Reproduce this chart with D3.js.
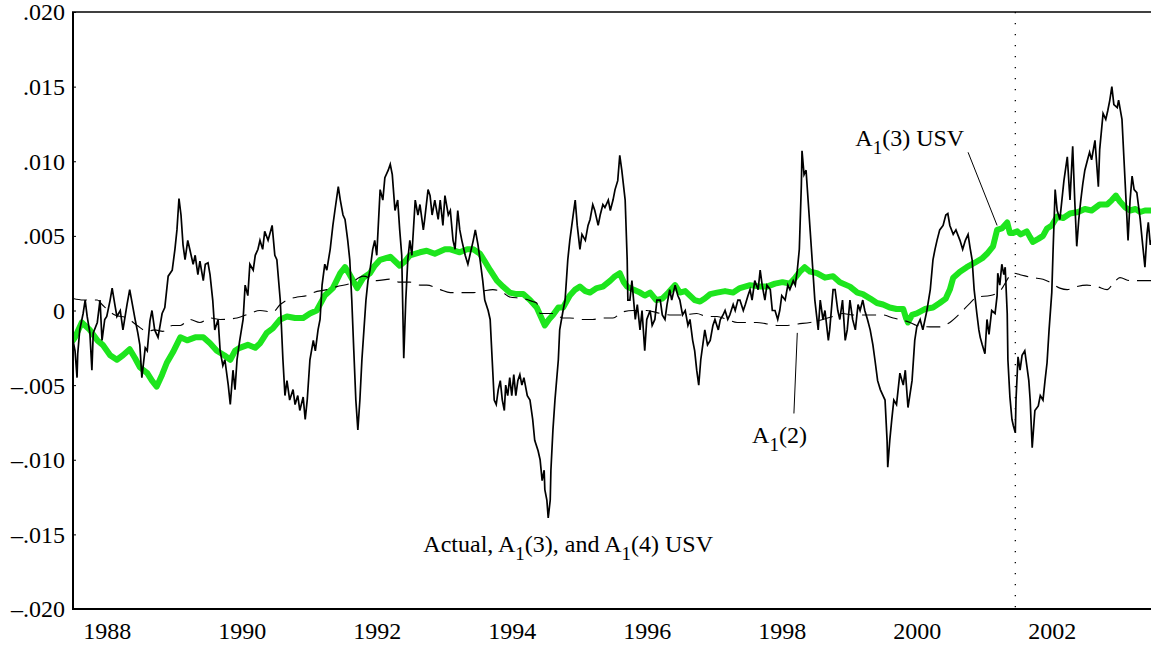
<!DOCTYPE html>
<html><head><meta charset="utf-8">
<script src="https://cdn.jsdelivr.net/npm/d3@7"></script>
<style>
body{margin:0;background:#fff}
text{font-family:"Liberation Serif","Times New Roman",serif;fill:#000}
</style>
</head><body>
<svg id="chart" width="1151" height="645"></svg>
<script>
// ---------- DATA ----------
const actualYears = [1987.50,1987.53,1987.56,1987.57,1987.60,1987.65,1987.68,1987.71,1987.75,1987.78,1987.80,1987.86,1987.90,1987.93,1987.97,1988.00,1988.05,1988.08,1988.12,1988.15,1988.20,1988.24,1988.30,1988.34,1988.42,1988.46,1988.49,1988.52,1988.57,1988.60,1988.64,1988.67,1988.71,1988.76,1988.82,1988.86,1988.91,1988.97,1989.01,1989.04,1989.07,1989.10,1989.13,1989.16,1989.20,1989.23,1989.28,1989.31,1989.35,1989.38,1989.43,1989.46,1989.50,1989.53,1989.57,1989.60,1989.65,1989.68,1989.72,1989.75,1989.80,1989.83,1989.87,1989.90,1989.93,1989.97,1990.02,1990.05,1990.09,1990.12,1990.17,1990.20,1990.24,1990.27,1990.31,1990.34,1990.39,1990.45,1990.49,1990.52,1990.57,1990.61,1990.64,1990.67,1990.71,1990.76,1990.79,1990.83,1990.86,1990.91,1990.94,1990.97,1991.01,1991.06,1991.09,1991.13,1991.16,1991.19,1991.23,1991.26,1991.31,1991.35,1991.38,1991.43,1991.46,1991.50,1991.53,1991.57,1991.60,1991.63,1991.66,1991.69,1991.72,1991.75,1991.78,1991.81,1991.84,1991.87,1991.90,1991.94,1991.97,1992.00,1992.05,1992.09,1992.12,1992.17,1992.20,1992.23,1992.27,1992.31,1992.34,1992.37,1992.40,1992.43,1992.46,1992.49,1992.52,1992.57,1992.61,1992.64,1992.69,1992.71,1992.76,1992.79,1992.82,1992.86,1992.91,1992.94,1992.98,1993.01,1993.06,1993.09,1993.13,1993.16,1993.20,1993.23,1993.26,1993.31,1993.35,1993.38,1993.43,1993.46,1993.50,1993.53,1993.57,1993.60,1993.65,1993.68,1993.71,1993.74,1993.77,1993.80,1993.83,1993.86,1993.89,1993.91,1993.94,1993.97,1994.00,1994.03,1994.06,1994.09,1994.12,1994.15,1994.18,1994.23,1994.27,1994.31,1994.34,1994.39,1994.42,1994.45,1994.48,1994.49,1994.52,1994.54,1994.57,1994.58,1994.61,1994.64,1994.69,1994.71,1994.76,1994.79,1994.83,1994.86,1994.91,1994.94,1994.97,1995.01,1995.04,1995.09,1995.13,1995.16,1995.20,1995.23,1995.28,1995.31,1995.35,1995.38,1995.43,1995.46,1995.50,1995.53,1995.57,1995.60,1995.63,1995.68,1995.71,1995.72,1995.75,1995.78,1995.83,1995.86,1995.90,1995.93,1995.97,1996.00,1996.05,1996.08,1996.12,1996.15,1996.20,1996.23,1996.27,1996.30,1996.34,1996.37,1996.42,1996.46,1996.49,1996.53,1996.57,1996.61,1996.64,1996.68,1996.71,1996.74,1996.77,1996.80,1996.83,1996.86,1996.90,1996.94,1996.98,1997.01,1997.06,1997.09,1997.13,1997.16,1997.20,1997.23,1997.28,1997.31,1997.35,1997.38,1997.43,1997.46,1997.50,1997.53,1997.56,1997.60,1997.65,1997.68,1997.71,1997.75,1997.78,1997.83,1997.86,1997.90,1997.94,1997.97,1998.00,1998.05,1998.09,1998.12,1998.17,1998.20,1998.23,1998.26,1998.29,1998.30,1998.33,1998.36,1998.39,1998.42,1998.45,1998.49,1998.54,1998.57,1998.61,1998.64,1998.69,1998.71,1998.76,1998.79,1998.83,1998.86,1998.90,1998.94,1998.97,1999.01,1999.05,1999.09,1999.13,1999.16,1999.20,1999.23,1999.27,1999.31,1999.35,1999.38,1999.42,1999.46,1999.50,1999.53,1999.56,1999.57,1999.60,1999.63,1999.66,1999.70,1999.75,1999.80,1999.83,1999.87,1999.93,1999.97,2000.00,2000.05,2000.09,2000.15,2000.20,2000.24,2000.27,2000.30,2000.34,2000.39,2000.43,2000.46,2000.49,2000.54,2000.58,2000.64,2000.68,2000.72,2000.76,2000.79,2000.82,2000.85,2000.89,2000.92,2000.94,2000.97,2001.01,2001.04,2001.07,2001.11,2001.16,2001.19,2001.20,2001.23,2001.26,2001.29,2001.31,2001.34,2001.35,2001.38,2001.41,2001.43,2001.46,2001.47,2001.50,2001.53,2001.56,2001.60,2001.63,2001.66,2001.68,2001.71,2001.74,2001.75,2001.80,2001.83,2001.87,2001.90,2001.93,2001.96,2002.00,2002.02,2002.05,2002.08,2002.12,2002.15,2002.18,2002.23,2002.26,2002.27,2002.31,2002.34,2002.37,2002.40,2002.43,2002.46,2002.49,2002.53,2002.56,2002.59,2002.64,2002.69,2002.71,2002.76,2002.80,2002.83,2002.86,2002.89,2002.92,2002.97,2002.99,2003.04,2003.07,2003.10,2003.13,2003.16,2003.19,2003.22,2003.26,2003.31,2003.34,2003.38,2003.41,2003.43,2003.46,2003.47];
const actualValues = [-0.0020,-0.0027,-0.0045,-0.0029,-0.0013,-0.0002,0.0007,-0.0004,-0.0015,-0.0040,-0.0015,-0.0008,0.0007,-0.0020,-0.0006,-0.0004,0.0007,0.0015,0.0004,-0.0004,0.0000,-0.0013,0.0004,0.0014,-0.0006,-0.0015,-0.0023,-0.0045,-0.0025,-0.0027,-0.0007,0.0000,-0.0013,-0.0018,-0.0002,0.0002,0.0023,0.0027,0.0041,0.0054,0.0075,0.0064,0.0044,0.0034,0.0047,0.0041,0.0031,0.0037,0.0024,0.0033,0.0020,0.0031,0.0032,0.0024,0.0007,-0.0013,-0.0006,-0.0027,-0.0037,-0.0033,-0.0050,-0.0063,-0.0040,-0.0053,-0.0033,-0.0020,-0.0006,0.0017,0.0010,0.0031,0.0027,0.0037,0.0041,0.0047,0.0041,0.0053,0.0047,0.0057,0.0037,0.0034,0.0007,-0.0033,-0.0057,-0.0047,-0.0060,-0.0053,-0.0063,-0.0057,-0.0067,-0.0058,-0.0073,-0.0060,-0.0033,-0.0020,-0.0027,-0.0013,-0.0006,0.0017,0.0031,0.0027,0.0041,0.0057,0.0067,0.0083,0.0074,0.0064,0.0061,0.0047,0.0034,0.0007,-0.0027,-0.0060,-0.0080,-0.0060,-0.0033,-0.0013,0.0007,0.0020,0.0027,0.0041,0.0047,0.0037,0.0081,0.0074,0.0089,0.0094,0.0098,0.0091,0.0067,0.0074,0.0054,0.0037,-0.0032,0.0007,0.0034,0.0047,0.0037,0.0074,0.0064,0.0071,0.0054,0.0061,0.0081,0.0077,0.0064,0.0074,0.0061,0.0074,0.0057,0.0077,0.0064,0.0067,0.0047,0.0041,0.0067,0.0054,0.0047,0.0037,0.0031,0.0037,0.0047,0.0054,0.0044,0.0034,0.0020,0.0007,0.0000,-0.0006,-0.0033,-0.0060,-0.0063,-0.0053,-0.0047,-0.0060,-0.0067,-0.0050,-0.0057,-0.0045,-0.0057,-0.0043,-0.0057,-0.0047,-0.0043,-0.0050,-0.0045,-0.0057,-0.0060,-0.0073,-0.0087,-0.0094,-0.0100,-0.0114,-0.0107,-0.0120,-0.0127,-0.0139,-0.0127,-0.0107,-0.0080,-0.0060,-0.0033,-0.0013,0.0000,0.0007,0.0034,0.0047,0.0064,0.0074,0.0057,0.0041,0.0051,0.0047,0.0057,0.0061,0.0071,0.0067,0.0057,0.0064,0.0071,0.0069,0.0074,0.0067,0.0074,0.0081,0.0087,0.0104,0.0094,0.0074,0.0034,0.0007,0.0007,0.0020,-0.0006,0.0004,-0.0013,0.0000,-0.0027,-0.0006,0.0000,-0.0010,-0.0006,0.0007,0.0007,-0.0003,-0.0006,0.0004,0.0014,0.0007,0.0017,0.0010,0.0007,-0.0003,0.0000,-0.0010,-0.0006,-0.0020,-0.0027,-0.0040,-0.0050,-0.0033,-0.0023,-0.0013,-0.0023,-0.0020,-0.0010,-0.0006,-0.0013,-0.0006,-0.0003,0.0000,-0.0006,-0.0003,0.0004,0.0000,0.0007,0.0007,0.0000,0.0004,0.0010,0.0014,0.0007,0.0020,0.0014,0.0027,0.0017,0.0007,0.0017,0.0014,0.0000,0.0000,-0.0006,0.0000,0.0010,0.0007,0.0017,0.0014,0.0020,0.0017,0.0027,0.0041,0.0084,0.0107,0.0091,0.0094,0.0074,0.0054,0.0034,0.0007,-0.0013,0.0007,-0.0006,0.0000,-0.0020,-0.0013,0.0014,0.0014,0.0000,-0.0006,0.0007,-0.0020,-0.0013,0.0007,-0.0006,-0.0013,0.0004,0.0000,0.0007,0.0000,-0.0006,-0.0013,-0.0023,-0.0033,-0.0047,-0.0053,-0.0057,-0.0060,-0.0087,-0.0105,-0.0087,-0.0073,-0.0060,-0.0063,-0.0042,-0.0050,-0.0040,-0.0065,-0.0047,-0.0020,-0.0011,-0.0006,-0.0013,0.0000,0.0014,0.0034,0.0041,0.0047,0.0054,0.0057,0.0064,0.0065,0.0057,0.0051,0.0054,0.0047,0.0041,0.0047,0.0051,0.0042,0.0034,0.0014,-0.0002,-0.0013,-0.0018,-0.0023,-0.0029,-0.0006,-0.0016,0.0000,-0.0002,0.0010,0.0025,0.0017,0.0031,0.0024,0.0029,-0.0002,-0.0033,-0.0058,-0.0073,-0.0077,-0.0082,-0.0060,-0.0031,-0.0040,-0.0030,-0.0027,-0.0037,-0.0047,-0.0060,-0.0092,-0.0073,-0.0067,-0.0064,-0.0057,-0.0060,-0.0047,-0.0035,-0.0013,0.0012,0.0041,0.0081,0.0067,0.0061,0.0074,0.0087,0.0103,0.0081,0.0074,0.0110,0.0074,0.0043,0.0061,0.0074,0.0085,0.0094,0.0101,0.0106,0.0101,0.0114,0.0083,0.0108,0.0132,0.0128,0.0134,0.0141,0.0150,0.0138,0.0136,0.0141,0.0128,0.0101,0.0074,0.0047,0.0074,0.0090,0.0081,0.0079,0.0061,0.0047,0.0029,0.0051,0.0059,0.0044,0.0047];

const usv3Years = [1987.50,1987.53,1987.63,1987.75,1987.86,1987.94,1988.05,1988.15,1988.24,1988.34,1988.42,1988.49,1988.60,1988.67,1988.74,1988.82,1988.89,1988.98,1989.09,1989.19,1989.31,1989.43,1989.53,1989.63,1989.74,1989.83,1989.90,1989.97,1990.09,1990.20,1990.27,1990.37,1990.46,1990.57,1990.67,1990.79,1990.91,1991.01,1991.11,1991.23,1991.35,1991.46,1991.53,1991.60,1991.71,1991.80,1991.90,1991.97,1992.05,1992.20,1992.34,1992.42,1992.49,1992.64,1992.74,1992.86,1993.01,1993.09,1993.23,1993.34,1993.43,1993.53,1993.60,1993.68,1993.78,1993.87,1993.97,1994.07,1994.17,1994.27,1994.37,1994.43,1994.49,1994.55,1994.61,1994.69,1994.76,1994.86,1994.94,1995.01,1995.09,1995.16,1995.26,1995.35,1995.46,1995.53,1995.60,1995.66,1995.71,1995.80,1995.90,1995.97,1996.05,1996.14,1996.23,1996.32,1996.42,1996.49,1996.57,1996.64,1996.71,1996.79,1996.86,1996.94,1997.04,1997.16,1997.28,1997.38,1997.53,1997.68,1997.78,1997.90,1998.01,1998.12,1998.20,1998.27,1998.34,1998.42,1998.52,1998.64,1998.76,1998.86,1999.01,1999.12,1999.20,1999.31,1999.41,1999.50,1999.60,1999.70,1999.80,1999.84,1999.87,1999.93,2000.00,2000.12,2000.24,2000.34,2000.43,2000.49,2000.54,2000.64,2000.74,2000.86,2000.97,2001.04,2001.13,2001.19,2001.26,2001.34,2001.38,2001.43,2001.49,2001.54,2001.63,2001.68,2001.72,2001.80,2001.87,2001.93,2002.00,2002.08,2002.17,2002.27,2002.39,2002.49,2002.59,2002.71,2002.82,2002.89,2002.95,2003.01,2003.09,2003.16,2003.24,2003.31,2003.38,2003.47];
const usv3Values = [-0.0020,-0.0018,-0.0008,-0.0013,-0.0020,-0.0023,-0.0030,-0.0033,-0.0030,-0.0026,-0.0032,-0.0038,-0.0042,-0.0047,-0.0051,-0.0043,-0.0035,-0.0028,-0.0018,-0.0020,-0.0018,-0.0018,-0.0022,-0.0027,-0.0030,-0.0033,-0.0027,-0.0025,-0.0023,-0.0025,-0.0022,-0.0015,-0.0012,-0.0006,-0.0004,-0.0005,-0.0005,-0.0002,0.0000,0.0010,0.0015,0.0025,0.0029,0.0024,0.0015,0.0022,0.0025,0.0030,0.0034,0.0036,0.0030,0.0033,0.0037,0.0039,0.0040,0.0038,0.0041,0.0041,0.0039,0.0041,0.0041,0.0038,0.0033,0.0027,0.0020,0.0016,0.0012,0.0011,0.0011,0.0007,0.0002,-0.0004,-0.0010,-0.0006,-0.0003,0.0002,0.0002,0.0010,0.0014,0.0016,0.0013,0.0012,0.0015,0.0016,0.0020,0.0023,0.0025,0.0019,0.0016,0.0014,0.0012,0.0010,0.0012,0.0007,0.0008,0.0012,0.0017,0.0012,0.0013,0.0010,0.0007,0.0006,0.0008,0.0011,0.0012,0.0013,0.0012,0.0015,0.0017,0.0016,0.0016,0.0018,0.0019,0.0018,0.0022,0.0026,0.0029,0.0026,0.0025,0.0022,0.0023,0.0019,0.0016,0.0012,0.0011,0.0008,0.0005,0.0004,0.0002,0.0001,0.0001,-0.0005,-0.0008,-0.0003,-0.0002,0.0001,0.0002,0.0005,0.0008,0.0014,0.0022,0.0026,0.0029,0.0032,0.0035,0.0038,0.0043,0.0054,0.0055,0.0059,0.0052,0.0052,0.0053,0.0051,0.0053,0.0049,0.0046,0.0048,0.0050,0.0055,0.0057,0.0063,0.0062,0.0065,0.0066,0.0068,0.0067,0.0071,0.0071,0.0074,0.0077,0.0073,0.0069,0.0067,0.0068,0.0066,0.0067,0.0067];

const a2Years = [1987.50,1987.65,1987.86,1987.93,1988.12,1988.30,1988.45,1988.60,1988.71,1988.83,1988.97,1989.09,1989.23,1989.38,1989.53,1989.68,1989.93,1990.12,1990.27,1990.46,1990.57,1990.67,1990.82,1990.97,1991.06,1991.26,1991.41,1991.60,1991.80,1992.00,1992.20,1992.34,1992.49,1992.64,1992.74,1992.94,1993.09,1993.28,1993.43,1993.57,1993.72,1993.87,1993.97,1994.17,1994.31,1994.37,1994.42,1994.61,1994.76,1994.86,1995.05,1995.20,1995.35,1995.50,1995.64,1995.80,1996.00,1996.20,1996.34,1996.53,1996.74,1996.89,1997.04,1997.19,1997.34,1997.49,1997.63,1997.78,1997.93,1998.08,1998.24,1998.42,1998.61,1998.76,1998.90,1999.05,1999.20,1999.35,1999.50,1999.65,1999.75,1999.90,2000.00,2000.20,2000.34,2000.49,2000.64,2000.79,2000.89,2001.09,2001.23,2001.43,2001.53,2001.72,2001.87,2001.97,2002.12,2002.23,2002.37,2002.52,2002.67,2002.82,2002.91,2003.01,2003.16,2003.31,2003.47];
const a2Values = [0.0008,0.0007,0.0007,0.0004,-0.0003,-0.0005,-0.0010,-0.0014,-0.0013,-0.0014,-0.0010,-0.0010,-0.0006,-0.0008,-0.0005,-0.0006,-0.0005,-0.0002,0.0000,-0.0001,0.0004,0.0007,0.0009,0.0010,0.0012,0.0014,0.0016,0.0018,0.0023,0.0020,0.0021,0.0019,0.0019,0.0017,0.0017,0.0014,0.0012,0.0012,0.0012,0.0013,0.0014,0.0012,0.0009,0.0008,0.0006,0.0005,-0.0002,-0.0002,-0.0005,-0.0005,-0.0006,-0.0006,-0.0005,-0.0005,-0.0001,0.0000,0.0000,-0.0002,-0.0003,-0.0003,-0.0002,-0.0004,-0.0004,-0.0006,-0.0008,-0.0008,-0.0008,-0.0009,-0.0010,-0.0010,-0.0009,-0.0008,-0.0006,-0.0004,-0.0002,-0.0003,-0.0003,-0.0003,-0.0003,-0.0005,-0.0006,-0.0008,-0.0010,-0.0011,-0.0011,-0.0008,-0.0002,0.0005,0.0009,0.0010,0.0013,0.0025,0.0024,0.0022,0.0021,0.0019,0.0015,0.0014,0.0016,0.0017,0.0016,0.0014,0.0018,0.0022,0.0020,0.0020,0.0020];

const yTickValues = [-0.020,-0.015,-0.010,-0.005,0,0.005,0.010,0.015,0.020];
const yTickLabels = ["\u2013.020","\u2013.015","\u2013.010","\u2013.005","0",".005",".010",".015",".020"];
const xTickValues = [1988,1990,1992,1994,1996,1998,2000,2002];
const xTickLabels = ["1988","1990","1992","1994","1996","1998","2000","2002"];
const forecastStart = 2001.46;

// ---------- CHART ----------
const svg = d3.select("#chart");
const PL = 73, PR = 1151, PT = 12, PB = 609;
const FS = 24;
const x = d3.scaleLinear().domain([1987.5, 2003.47]).range([PL, PR]);
const y = d3.scaleLinear().domain([-0.02, 0.02]).range([PB, PT]);

svg.append("defs").append("clipPath").attr("id","clip")
  .append("rect").attr("x",PL).attr("y",PT).attr("width",PR-PL).attr("height",PB-PT);

const zip = (xs, vs) => xs.map((d,i)=>[d, vs[i]]).filter(p => p[1] !== undefined);
const g = svg.append("g").attr("clip-path","url(#clip)");

g.append("line").attr("x1",x(forecastStart)).attr("x2",x(forecastStart))
  .attr("y1",PT).attr("y2",PB)
  .attr("stroke","#000").attr("stroke-width",1.3).attr("stroke-dasharray","1.3,9.7");

const lineLin = d3.line().x(d=>x(d[0])).y(d=>y(d[1]));
const lineSmooth = d3.line().x(d=>x(d[0])).y(d=>y(d[1])).curve(d3.curveMonotoneX);

g.append("path").datum(zip(usv3Years, usv3Values)).attr("d", lineLin)
  .attr("fill","none").attr("stroke","#1de51d").attr("stroke-width",6)
  .attr("stroke-linejoin","round").attr("stroke-linecap","round");

g.append("path").datum(zip(a2Years, a2Values)).attr("d", lineSmooth)
  .attr("fill","none").attr("stroke","#000").attr("stroke-width",1.1)
  .attr("stroke-dasharray","14,8");

g.append("path").datum(zip(actualYears, actualValues)).attr("d", lineLin)
  .attr("fill","none").attr("stroke","#000").attr("stroke-width",1.7);

// axes
const yAxis = d3.axisLeft(y).tickValues(yTickValues).tickSize(-3).tickPadding(8)
  .tickFormat((d,i)=>yTickLabels[i]);
const ya = svg.append("g").attr("transform",`translate(${PL},0)`).call(yAxis);
ya.select(".domain").remove();
ya.selectAll("text").attr("font-size",FS).attr("font-family","Liberation Serif").attr("dy","0.33em");

const xAxis = d3.axisBottom(x).tickValues(xTickValues).tickSize(0).tickPadding(13)
  .tickFormat((d,i)=>xTickLabels[i]);
const xa = svg.append("g").attr("transform",`translate(0,${PB})`).call(xAxis);
xa.select(".domain").remove();
xa.selectAll("text").attr("font-size",FS).attr("font-family","Liberation Serif");

svg.append("line").attr("x1",PL).attr("x2",PL).attr("y1",PT).attr("y2",PB+1)
  .attr("stroke","#000").attr("stroke-width",2);
svg.append("line").attr("x1",PL-1).attr("x2",PR).attr("y1",PB).attr("y2",PB)
  .attr("stroke","#000").attr("stroke-width",2.2);
svg.append("line").attr("x1",PL-1).attr("x2",PR).attr("y1",PT).attr("y2",PT)
  .attr("stroke","#000").attr("stroke-width",1.5);

// annotations
function subLabel(xv, yv, parts){
  const t = svg.append("text").attr("x", x(xv)).attr("y", y(yv)).attr("font-size",FS);
  parts.forEach(p=>{
    if (p.sub) t.append("tspan").attr("font-size",19).attr("dy",8).text(p.t);
    else t.append("tspan").attr("dy", p.back ? -8 : 0).text(p.t);
  });
}
subLabel(1999.09, 0.0110, [{t:"A"},{t:"1",sub:true},{t:"(3) USV",back:true}]);
svg.append("line").attr("x1",x(2000.76)).attr("y1",y(0.0106)).attr("x2",x(2001.19)).attr("y2",y(0.0057))
  .attr("stroke","#000").attr("stroke-width",1);

subLabel(1997.56, -0.0089, [{t:"A"},{t:"1",sub:true},{t:"(2)",back:true}]);
svg.append("line").attr("x1",x(1998.23)).attr("y1",y(-0.0015)).attr("x2",x(1998.18)).attr("y2",y(-0.0069))
  .attr("stroke","#000").attr("stroke-width",1);

subLabel(1992.69, -0.0162, [{t:"Actual, A"},{t:"1",sub:true},{t:"(3), and A",back:true},{t:"1",sub:true},{t:"(4) USV",back:true}]);
</script>
</body></html>
